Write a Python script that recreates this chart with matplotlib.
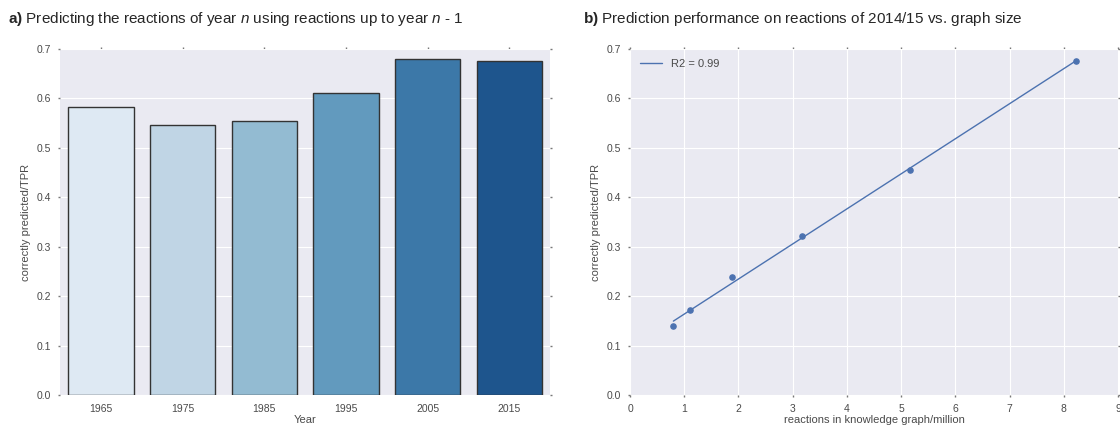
import numpy as np
import matplotlib
matplotlib.use("Agg")
import matplotlib.pyplot as plt
import seaborn as sns

# panel a: correctly predicted per year
years = ["1965", "1975", "1985", "1995", "2005", "2015"]
tpr_year = [0.582, 0.547, 0.555, 0.611, 0.679, 0.675]

# panel b: prediction on 2014/15 vs graph size (million reactions)
graph_size = [0.80, 1.11, 1.89, 3.17, 5.16, 8.22]
tpr_size = [0.139, 0.171, 0.238, 0.322, 0.455, 0.675]
r2_label = "R2 = 0.99"

sns.set_style("darkgrid")
plt.rcParams['font.family'] = ['Liberation Sans', 'DejaVu Sans']
plt.rcParams['mathtext.fontset'] = 'custom'
plt.rcParams['mathtext.rm'] = 'Liberation Sans'
plt.rcParams['mathtext.it'] = 'Liberation Sans:italic'
plt.rcParams['mathtext.bf'] = 'Liberation Sans:bold'

fig = plt.figure(figsize=(11.2, 4.28), dpi=100)
ax1 = fig.add_axes([0.0536, 0.0771, 0.4375, 0.8084])
ax2 = fig.add_axes([0.5625, 0.0771, 0.4357, 0.8084])

def style_axes(ax):
    ax.tick_params(axis='both', which='both', direction='out', length=1.5, width=1,
                   color='#777777', labelsize=7.5, labelcolor='#4a4a4a',
                   top=True, right=True, bottom=True, left=True, pad=5)
    for s in ax.spines.values():
        s.set_visible(False)

# --- panel a
sns.barplot(x=years, y=tpr_year, hue=years, palette="Blues", legend=False,
            edgecolor='#333333', linewidth=1, ax=ax1)
ax1.set_ylim(0, 0.7)
ax1.set_xlim(-0.5, 5.5)
ax1.set_xlabel("Year", fontsize=8, color='#4a4a4a', labelpad=1)
ax1.set_ylabel("correctly predicted/TPR", fontsize=8, color='#4a4a4a')
ax1.xaxis.grid(False)
style_axes(ax1)
ax1.tick_params(axis='x', bottom=False)

# --- panel b
coef = np.polyfit(graph_size, tpr_size, 1)
xs = np.array([min(graph_size), max(graph_size)])
ax2.plot(xs, np.polyval(coef, xs), color='#4c72b0', lw=1, label=r2_label)
ax2.scatter(graph_size, tpr_size, color='#4c72b0', s=14, zorder=3)
ax2.set_xlim(0, 9)
ax2.set_ylim(0, 0.7)
ax2.set_xticks(range(10))
ax2.set_xlabel("reactions in knowledge graph/million", fontsize=8, color='#4a4a4a', labelpad=1)
ax2.set_ylabel("correctly predicted/TPR", fontsize=8, color='#4a4a4a')
leg = ax2.legend(loc='upper left', frameon=False, fontsize=8)
for t in leg.get_texts():
    t.set_color('#4a4a4a')
style_axes(ax2)

fig.text(0.007, 0.955, r"$\mathbf{a)}$ Predicting the reactions of year $\mathit{n}$ using reactions up to year $\mathit{n}$ - 1",
         fontsize=11, va='center', ha='left')
fig.text(0.5205, 0.955, r"$\mathbf{b)}$ Prediction performance on reactions of 2014/15 vs. graph size",
         fontsize=11, va='center', ha='left')

fig.savefig("out.png", dpi=100)
